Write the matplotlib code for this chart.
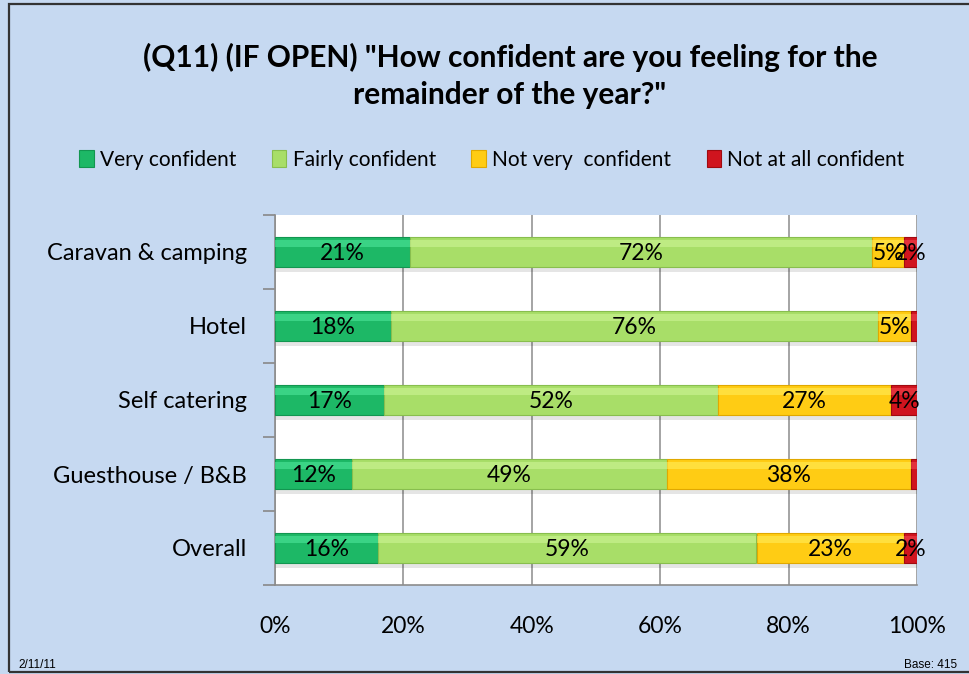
import matplotlib
matplotlib.use("Agg")
import matplotlib.pyplot as plt
from matplotlib.patches import Rectangle
import numpy as np

categories = ["Caravan & camping", "Hotel", "Self catering", "Guesthouse / B&B", "Overall"]
series_names = ["Very confident", "Fairly confident", "Not very  confident", "Not at all confident"]
very = [21, 18, 17, 12, 16]
fairly = [72, 76, 52, 49, 59]
not_very = [5, 5, 27, 38, 23]
not_at_all = [2, 1, 4, 1, 2]
series = [very, fairly, not_very, not_at_all]
xticks = [0, 20, 40, 60, 80, 100]
xtick_labels = ["0%", "20%", "40%", "60%", "80%", "100%"]

colors = ["#1DB866", "#A8DE68", "#FFCC14", "#D0141E"]
highlights = ["#4FE69A", "#CDF596", "#FFEC5A", "#F04550"]
edges = ["#129650", "#88BE4E", "#E0A800", "#A00A10"]

BG = "#C6D9F1"
FONT = ["Lato", "DejaVu Sans"]
plt.rcParams["font.family"] = FONT

fig = plt.figure(figsize=(9.7, 6.74), dpi=100)
fig.patch.set_facecolor(BG)

ax = fig.add_axes([275/970, 1-585/674, (917-275)/970, (585-215)/674])
ax.set_facecolor("white")

ypos = np.arange(len(categories))[::-1]
h = 0.41

# shadow
totals = [sum(s[i] for s in series) for i in range(len(categories))]
ax.barh(ypos - 0.06, totals, height=h, color="#000000", alpha=0.10, zorder=2, linewidth=0)

left = np.zeros(len(categories))
for vals, c, hc, ec, name in zip(series, colors, highlights, edges, series_names):
    vals = np.array(vals, dtype=float)
    ax.barh(ypos, vals, left=left, height=h, color=c, edgecolor=ec, linewidth=0.8,
            label=name, zorder=3)
    ax.barh(ypos + h*0.28, vals, left=left, height=h*0.22, color=hc, alpha=0.6,
            linewidth=0, zorder=4)
    for y, l, v in zip(ypos, left, vals):
        if v >= 2:
            ax.text(l + v/2, y - 0.02, f"{int(v)}%", ha="center", va="center",
                    fontsize=16.5, color="black", zorder=6)
    left += vals

ax.set_xlim(0, 100)
ax.set_ylim(-0.5, len(categories) - 0.5)
ax.set_xticks(xticks)
ax.set_xticklabels(xtick_labels, fontsize=16.5)
ax.tick_params(axis="x", length=0, pad=22)
ax.set_yticks(ypos)
ax.set_yticklabels(categories, fontsize=17)
ax.tick_params(axis="y", length=0, pad=20)
ax.set_yticks(np.arange(-0.5, len(categories), 1.0), minor=True)
ax.tick_params(axis="y", which="minor", length=9, color="#888888", width=1.2)
ax.grid(axis="x", color="#8C8C8C", linewidth=1.1, zorder=1)
ax.set_axisbelow(True)
for s in ["top", "right"]:
    ax.spines[s].set_visible(False)
for s in ["left", "bottom"]:
    ax.spines[s].set_color("#8C8C8C")
    ax.spines[s].set_linewidth(1.2)

fig.text(510/970, 1-57/674, "(Q11) (IF OPEN) \"How confident are you feeling for the",
         ha="center", va="center", fontsize=21.5, fontweight="bold")
fig.text(510/970, 1-95/674, "remainder of the year?\"",
         ha="center", va="center", fontsize=21.5, fontweight="bold")

handles, labels = ax.get_legend_handles_labels()
leg = fig.legend(handles, labels, loc="center", bbox_to_anchor=(492/970, 1-160/674), ncol=4,
                 frameon=False, fontsize=15, handlelength=0.7, handleheight=0.9,
                 handletextpad=0.3, columnspacing=1.7)

fig.text(18/970, 1-665/674, "2/11/11", ha="left", va="center", fontsize=8.5,
         family=["Liberation Sans", "DejaVu Sans"])
fig.text(957/970, 1-665/674, "Base: 415", ha="right", va="center", fontsize=8.5,
         family=["Liberation Sans", "DejaVu Sans"])

# outer frame
fig.add_artist(Rectangle((9/970, 2/674), 1.2, 1-6/674, transform=fig.transFigure,
                         fill=False, edgecolor="#333333", linewidth=1.6))

fig.savefig("out.png", dpi=100, facecolor=BG)
